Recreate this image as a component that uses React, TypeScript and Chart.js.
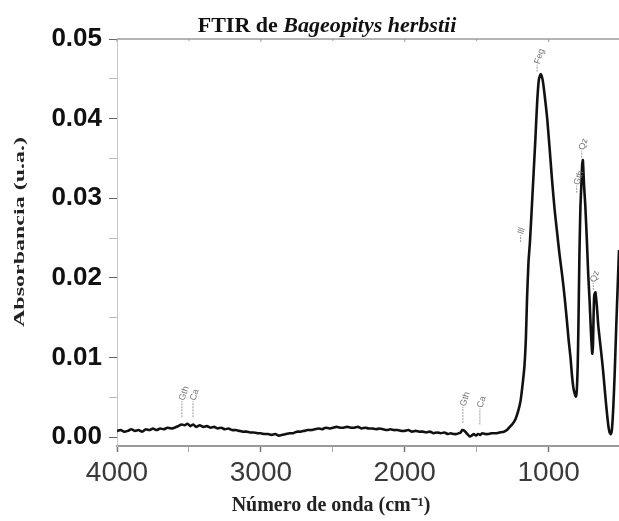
import React, { useEffect, useRef } from 'react';
import { Chart, registerables } from 'chart.js';

Chart.register(...registerables);

// Spectrum: wavenumber (cm-1) and absorbance (u.a.)
const wavenumbers = [
  4000, 3975, 3950, 3925, 3900, 3875, 3850, 3825, 3800, 3775, 3750, 3725, 3700, 3675, 3650, 3625, 3600, 3575,
  3550, 3530, 3510, 3490, 3470, 3450, 3425, 3400, 3375, 3350, 3325, 3300, 3275, 3250, 3225, 3200, 3175, 3150,
  3125, 3100, 3075, 3050, 3025, 3000, 2975, 2950, 2925, 2900, 2875, 2850, 2825, 2800, 2775, 2750, 2725, 2700,
  2675, 2650, 2625, 2600, 2575, 2550, 2525, 2500, 2475, 2450, 2425, 2400, 2375, 2350, 2325, 2300, 2275, 2250,
  2225, 2200, 2175, 2150, 2125, 2100, 2075, 2050, 2025, 2000, 1975, 1950, 1925, 1900, 1875, 1850, 1825, 1800,
  1775, 1750, 1725, 1700, 1680, 1660, 1640, 1625, 1612, 1600, 1585, 1570, 1560, 1548, 1535, 1520, 1505, 1490,
  1475, 1460, 1440, 1420, 1400, 1370, 1340, 1310, 1290, 1270, 1250, 1230, 1210, 1195, 1180, 1168, 1158, 1150,
  1140, 1130, 1118, 1105, 1092, 1080, 1068, 1055, 1042, 1028, 1010, 993, 975, 958, 940, 924, 905, 889, 875, 861,
  848, 838, 828, 818, 810, 804, 798, 793, 786, 779, 773, 767, 762, 755, 745, 735, 725, 715, 708, 702, 697, 692,
  688, 683, 675, 665, 655, 640, 625, 612, 600, 590, 583, 576, 568, 560, 550, 540, 530, 520, 511,
];
const absorbance = [
  0.0008, 0.0009, 0.0007, 0.0008, 0.001, 0.0008, 0.0009, 0.0007, 0.001, 0.0009, 0.0011, 0.0009, 0.0011, 0.001,
  0.0012, 0.0011, 0.0012, 0.0014, 0.0016, 0.0015, 0.0017, 0.0014, 0.0016, 0.0013, 0.0015, 0.0013, 0.0014, 0.0012,
  0.0013, 0.0011, 0.0012, 0.001, 0.0011, 0.0009, 0.0009, 0.0008, 0.0007, 0.0007, 0.0006, 0.0006, 0.0005, 0.0005,
  0.0004, 0.0004, 0.0003, 0.0004, 0.0002, 0.0003, 0.0004, 0.0005, 0.0005, 0.0007, 0.0007, 0.0008, 0.0009, 0.0009,
  0.001, 0.0011, 0.001, 0.0012, 0.0011, 0.0012, 0.0013, 0.0012, 0.0012, 0.0013, 0.0012, 0.0012, 0.0013, 0.0011,
  0.0012, 0.0011, 0.0011, 0.001, 0.0011, 0.001, 0.0009, 0.001, 0.0009, 0.0009, 0.0008, 0.0008, 0.0009, 0.0007,
  0.0008, 0.0007, 0.0007, 0.0006, 0.0007, 0.0005, 0.0006, 0.0005, 0.0006, 0.0004, 0.0005, 0.0004, 0.0004, 0.0005,
  0.0006, 0.0009, 0.0008, 0.0005, 0.0003, 0.0001, 0.0002, 0.0004, 0.0002, 0.0004, 0.0003, 0.0005, 0.0004, 0.0004,
  0.0005, 0.0005, 0.0006, 0.0007, 0.0009, 0.0013, 0.0017, 0.0023, 0.0034, 0.0046, 0.0068, 0.009, 0.0125, 0.0175,
  0.022, 0.0245, 0.0285, 0.033, 0.0375, 0.042, 0.0449, 0.0456, 0.0449, 0.043, 0.04, 0.0362, 0.032, 0.0285, 0.0255,
  0.0229, 0.0202, 0.0176, 0.015, 0.0122, 0.01, 0.0078, 0.0062, 0.0054, 0.0051, 0.006, 0.009, 0.014, 0.023, 0.029,
  0.0315, 0.0342, 0.0348, 0.032, 0.029, 0.025, 0.0205, 0.017, 0.014, 0.0118, 0.0105, 0.0115, 0.015, 0.0178,
  0.0182, 0.0165, 0.014, 0.0115, 0.009, 0.0064, 0.004, 0.0022, 0.0012, 0.0006, 0.0004, 0.001, 0.004, 0.0085,
  0.014, 0.019, 0.0235, 0.0272, 0.031,
];

// Band assignments
const peakLabels = ['Gth', 'Ca', 'Gth', 'Ca', 'Ill', 'Feg', 'Gth', 'Qz', 'Qz'];
const peakWavenumbers = [3549, 3472, 1596, 1478, 1195, 1080, 805, 770, 690];
const peakLevels = [0.0025, 0.0025, 0.0018, 0.0016, 0.0245, 0.0459, 0.0307, 0.0351, 0.0185];

const xTickValues = [1000, 1500, 2000, 2500, 3000, 3500, 4000];
const xMajorTicks = [4000, 3000, 2000, 1000];
const yTickValues = [0, 0.005, 0.01, 0.015, 0.02, 0.025, 0.03, 0.035, 0.04, 0.045, 0.05];
const yMajorTicks = [0, 0.01, 0.02, 0.03, 0.04, 0.05];
const titlePlain = 'FTIR de ';
const titleItalic = 'Bageopitys herbstii';
const xTitle = 'Número de onda (cm⁻¹)';
const yTitle = 'Absorbancia (u.a.)';

const SERIF = '"Liberation Serif", "Times New Roman", serif';
const SANS = '"Liberation Sans", Arial, sans-serif';

const isMajorX = (v: number) => xMajorTicks.includes(v);
const isMajorY = (v: number) => yMajorTicks.includes(v);

const decorPlugin = {
  id: 'decor',
  afterDraw(chart: any) {
    const { ctx, chartArea } = chart;
    const xs = chart.scales.x;
    const ys = chart.scales.y;
    ctx.save();
    // top frame line
    ctx.strokeStyle = '#b4b4b4';
    ctx.lineWidth = 2;
    ctx.beginPath();
    ctx.moveTo(chartArea.left, chartArea.top);
    ctx.lineTo(chartArea.right, chartArea.top);
    ctx.stroke();
    ctx.lineWidth = 1;
    ctx.strokeStyle = '#999';
    xTickValues.forEach((v) => {
      const px = xs.getPixelForValue(v);
      ctx.beginPath();
      ctx.moveTo(px, chartArea.top);
      ctx.lineTo(px, chartArea.top + (isMajorX(v) ? 3 : 2));
      ctx.stroke();
    });

    // band labels
    ctx.strokeStyle = '#9a9a9a';
    ctx.fillStyle = '#737373';
    ctx.font = `9px ${SANS}`;
    peakLabels.forEach((lab, i) => {
      const px = xs.getPixelForValue(peakWavenumbers[i]);
      const py = ys.getPixelForValue(peakLevels[i]);
      const len = peakLevels[i] < 0.005 ? 16 : 7;
      ctx.setLineDash([2, 1]);
      ctx.beginPath();
      ctx.moveTo(px, py);
      ctx.lineTo(px, py - len);
      ctx.stroke();
      ctx.setLineDash([]);
      ctx.save();
      ctx.translate(px, py - len - 1);
      ctx.rotate(-Math.PI * 0.4);
      ctx.textAlign = 'left';
      ctx.textBaseline = 'middle';
      ctx.fillText(lab, 0, 0);
      ctx.restore();
    });

    // main title
    ctx.fillStyle = '#111';
    ctx.textBaseline = 'alphabetic';
    ctx.textAlign = 'left';
    ctx.font = `bold 22px ${SERIF}`;
    const w1 = ctx.measureText(titlePlain).width;
    ctx.font = `italic bold 22px ${SERIF}`;
    const w2 = ctx.measureText(titleItalic).width;
    const startX = 327 - (w1 + w2) / 2;
    ctx.font = `bold 22px ${SERIF}`;
    ctx.fillText(titlePlain, startX, 32);
    ctx.font = `italic bold 22px ${SERIF}`;
    ctx.fillText(titleItalic, startX + w1, 32);

    // x title
    ctx.fillStyle = '#222';
    ctx.font = `bold 20px ${SERIF}`;
    ctx.textAlign = 'center';
    ctx.fillText(xTitle, 331, 511);

    // y title
    ctx.save();
    ctx.translate(20, 232);
    ctx.rotate(-Math.PI / 2);
    ctx.scale(1.6, 1);
    ctx.font = `bold 15px ${SERIF}`;
    ctx.textAlign = 'center';
    ctx.textBaseline = 'middle';
    ctx.fillText(yTitle, 0, 0);
    ctx.restore();

    ctx.restore();
  },
};

export default function App() {
  const ref = useRef<HTMLCanvasElement | null>(null);
  useEffect(() => {
    if (!ref.current) return;
    const chart = new Chart(ref.current, {
      type: 'line',
      data: {
        datasets: [
          {
            data: wavenumbers.map((w, i) => ({ x: w, y: absorbance[i] })),
            borderColor: '#111',
            borderWidth: 2.6,
            pointRadius: 0,
            tension: 0.2,
            fill: false,
          },
        ],
      },
      options: {
        animation: false,
        responsive: false,
        layout: { padding: { top: 39, left: 0, right: 0, bottom: 0 } },
        plugins: { legend: { display: false }, tooltip: { enabled: false }, title: { display: false } },
        scales: {
          x: {
            type: 'linear',
            reverse: true,
            min: 511,
            max: 4000,
            afterBuildTicks: (s: any) => {
              s.ticks = xTickValues.map((v) => ({ value: v }));
            },
            afterFit: (s: any) => {
              s.height = 75;
              s.paddingLeft = 0;
              s.paddingRight = 0;
            },
            border: { display: true, color: '#9a9a9a', width: 2 },
            grid: {
              drawOnChartArea: false,
              drawTicks: true,
              tickLength: 6,
              tickColor: (c: any) => (c.tick && isMajorX(c.tick.value) ? '#777' : '#aaa'),
              tickWidth: (c: any) => (c.tick && isMajorX(c.tick.value) ? 1.5 : 1),
            },
            ticks: {
              autoSkip: false,
              maxRotation: 0,
              padding: 4,
              color: '#3a3a3a',
              font: { family: SANS, size: 28 },
              callback: (v: any) => (isMajorX(Number(v)) ? String(v) : ''),
            },
          },
          y: {
            min: -0.0011,
            max: 0.05,
            afterBuildTicks: (s: any) => {
              s.ticks = yTickValues.map((v) => ({ value: v }));
            },
            afterFit: (s: any) => {
              s.width = 117;
              s.paddingTop = 0;
              s.paddingBottom = 0;
            },
            border: { display: true, color: '#c8c8c8', width: 1 },
            grid: {
              drawOnChartArea: false,
              drawTicks: true,
              tickLength: 8,
              tickColor: (c: any) => (c.tick && isMajorY(c.tick.value) ? '#666' : '#bbb'),
            },
            ticks: {
              autoSkip: false,
              padding: 7,
              color: '#111',
              font: { family: SANS, size: 26, weight: 'bold' },
              callback: (v: any) => (isMajorY(Number(v)) ? Number(v).toFixed(2) : ''),
            },
          },
        },
      },
      plugins: [decorPlugin],
    } as any);
    return () => chart.destroy();
  }, []);
  return (
    <div style={{ position: 'absolute', left: 0, top: 0, width: 619, height: 521, background: '#fff' }}>
      <canvas ref={ref} width={619} height={521} style={{ display: 'block' }} />
    </div>
  );
}
